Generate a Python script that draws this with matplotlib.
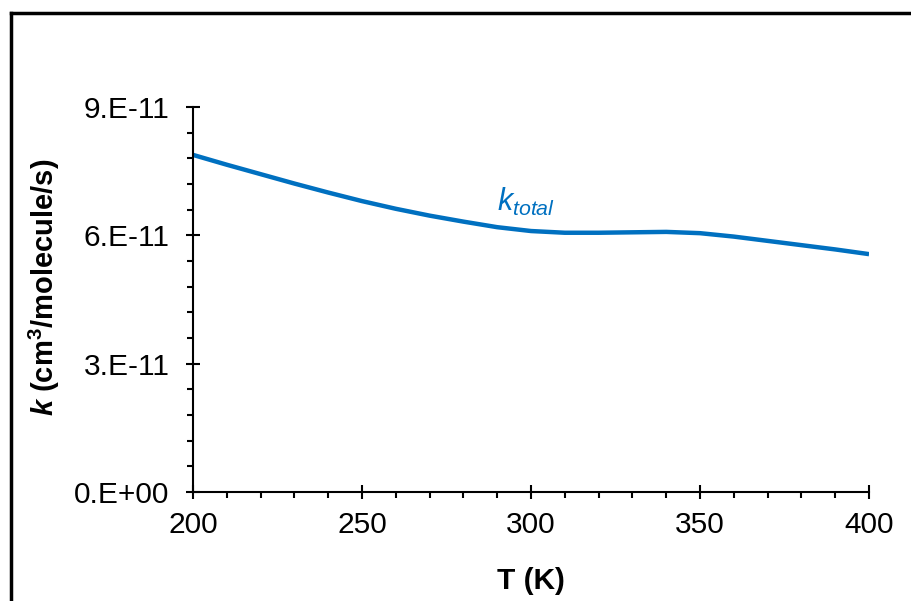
import matplotlib
matplotlib.use("Agg")
import matplotlib.pyplot as plt
from matplotlib.ticker import MultipleLocator, FuncFormatter
from matplotlib.lines import Line2D

# Datos
temperatura = [200, 210, 220, 230, 240, 250, 260, 270, 280, 290, 300,
               310, 320, 330, 340, 350, 360, 370, 380, 390, 400]
k_total = [7.88, 7.65, 7.43, 7.21, 7.00, 6.80, 6.62, 6.46, 6.32, 6.19, 6.10,
           6.06, 6.06, 6.07, 6.08, 6.05, 5.97, 5.87, 5.77, 5.67, 5.56]
k_total = [v * 1e-11 for v in k_total]

plt.rcParams["font.family"] = ["Liberation Sans", "DejaVu Sans"]
plt.rcParams["mathtext.fontset"] = "custom"
plt.rcParams["mathtext.rm"] = "Liberation Sans"
plt.rcParams["mathtext.it"] = "Liberation Sans:italic"
plt.rcParams["mathtext.bf"] = "Liberation Sans:bold"
plt.rcParams["mathtext.bfit"] = "Liberation Sans:bold:italic"

fig = plt.figure(figsize=(9.12, 6.01), dpi=100)
ax = fig.add_axes([0.2116, 0.1814, 0.7413, 0.6406])

azul = "#0070C0"
ax.plot(temperatura, k_total, color=azul, lw=3.2, solid_capstyle="butt")
ax.text(290, 6.57e-11, r"$\mathit{k}_{\mathit{total}}$", color=azul,
        fontsize=22, va="baseline")

ax.set_xlim(200, 400)
ax.set_ylim(0, 9e-11)
ax.xaxis.set_major_locator(MultipleLocator(50))
ax.xaxis.set_minor_locator(MultipleLocator(10))
ax.yaxis.set_major_locator(MultipleLocator(3e-11))
ax.yaxis.set_minor_locator(MultipleLocator(0.6e-11))
ax.yaxis.set_major_formatter(FuncFormatter(lambda v, p: f"{v:.0E}".replace("E", ".E")))

for lado in ["top", "right"]:
    ax.spines[lado].set_visible(False)
for lado in ["left", "bottom"]:
    ax.spines[lado].set_linewidth(1.5)

ax.tick_params(which="major", direction="inout", length=10, width=1.5,
               labelsize=21.5, pad=9)
ax.tick_params(which="minor", direction="out", length=4.5, width=1.5)
ax.tick_params(axis="y", which="major", pad=12)

ax.set_xlabel("T (K)", fontsize=21.5, fontweight="bold", labelpad=20)
ax.set_ylabel(r"$\mathbfit{k}$ (cm$^{\mathbf{3}}$/molecule/s)", fontsize=21,
              fontweight="bold")
ax.yaxis.set_label_coords(-0.194, 0.532)

# Marco exterior
fig.add_artist(Line2D([11 / 912, 11 / 912], [0, 1 - 12.5 / 601],
                      transform=fig.transFigure, color="black", lw=2.5))
fig.add_artist(Line2D([11 / 912, 1], [1 - 12.5 / 601, 1 - 12.5 / 601],
                      transform=fig.transFigure, color="black", lw=2.5))

fig.savefig("out.png", dpi=100)
